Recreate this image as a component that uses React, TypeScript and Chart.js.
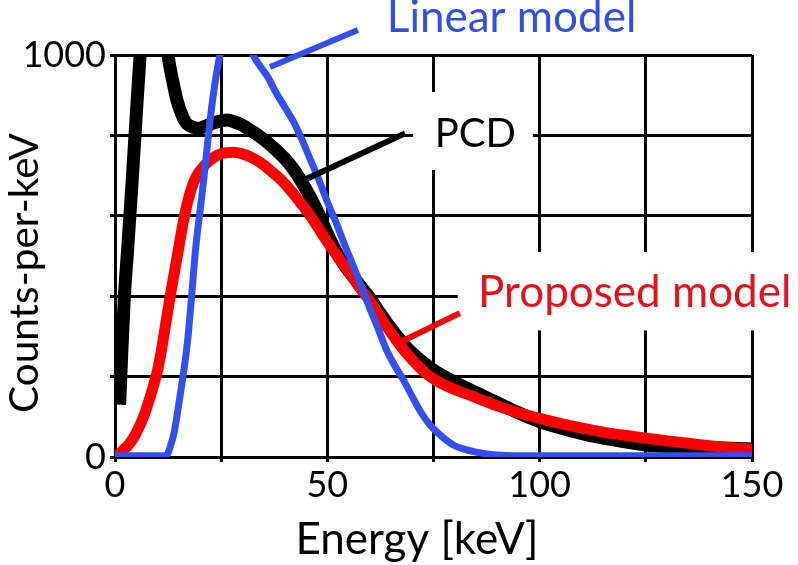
import React, { useEffect, useRef } from 'react';
import { Chart, registerables } from 'chart.js';

Chart.register(...registerables);

// ---------- data ----------
const linearEnergy = [0, 5, 10, 12, 13, 14, 15, 16, 17, 18, 19, 20, 21, 22, 23, 24, 25, 26, 28, 30, 32, 34, 36, 38, 40, 42, 44, 46, 48, 50, 52, 54, 56, 58, 60, 62, 64, 66, 68, 70, 72, 74, 76, 78, 80, 82, 85, 88, 92, 100, 120, 150];
const linearCounts = [3, 3, 3, 3, 25, 65, 130, 200, 280, 395, 520, 610, 700, 800, 890, 960, 1015, 1055, 1090, 1070, 1010, 975, 945, 905, 870, 835, 790, 740, 690, 635, 585, 530, 478, 425, 370, 318, 265, 225, 190, 150, 112, 82, 60, 42, 28, 20, 12, 7, 4, 3, 3, 3];

const proposedEnergy = [0, 1, 2, 3, 4, 5, 6, 7, 8, 9, 10, 11, 12, 13, 14, 15, 16, 17, 18, 19, 20, 22, 24, 26, 28, 30, 32, 34, 36, 38, 40, 42, 44, 46, 48, 50, 52, 54, 56, 58, 60, 62, 64, 66, 68, 70, 73, 76, 80, 85, 90, 95, 100, 105, 110, 115, 120, 125, 130, 135, 140, 145, 150];
const proposedCounts = [0, 8, 18, 28, 42, 60, 82, 108, 140, 175, 215, 270, 335, 400, 460, 520, 580, 630, 668, 695, 712, 735, 750, 757, 758, 754, 746, 734, 718, 700, 680, 655, 628, 600, 568, 535, 505, 476, 446, 416, 388, 356, 324, 294, 266, 242, 210, 188, 168, 148, 127, 110, 96, 83, 72, 62, 54, 47, 40, 34, 28, 23, 19];

const pcdEnergy = [1.1, 1.6, 2.2, 3, 4, 5, 6, 7, 8, 9, 10, 11, 12, 12.5, 13.5, 14.6, 16, 17, 18.5, 20, 21, 23, 25, 26.5, 28, 30, 32, 34, 36, 38, 40, 42, 44, 46, 48, 50, 52, 54, 56, 58, 60, 62, 64, 66, 68, 70, 72, 75, 80, 85, 90, 95, 100, 105, 110, 115, 120, 125, 130, 135, 140, 145, 150];
const pcdCounts = [130, 260, 398, 520, 680, 850, 1015, 1180, 1300, 1330, 1280, 1170, 1060, 1000, 940, 887, 845, 828, 820, 818, 822, 830, 836, 838, 834, 825, 812, 798, 782, 763, 742, 716, 684, 646, 604, 556, 512, 478, 450, 422, 396, 364, 334, 306, 280, 258, 240, 216, 186, 160, 135, 110, 88, 72, 58, 47, 38, 30, 26, 24, 23, 22, 20];

const xTickLabels = [0, 50, 100, 150];
const yTickLabels = [0, 1000];

const seriesNames = ['Linear model', 'Proposed model', 'PCD'];
const seriesColors = ['#3050f0', '#ff0000', '#000000'];
const textColors = ['#2f4fe8', '#e8101a', '#000000'];
const labelFontSizes = [44, 44, 40];

// annotation anchors in data units
const labelX = [64.0, 85.5, 75.3];
const labelY = [1057, 372, 771];
const leaderFromX = [36.5, 66.6, 44.3];
const leaderFromY = [970, 283, 688];
const leaderToX = [57.2, 81.2, 68.3];
const leaderToY = [1062, 358, 805];
// white masks behind labels (data units): [x0, x1, y0, y1]
const maskBoxes = [
  [80.7, 162, 315, 510],
  [70.2, 98.4, 714, 908],
];

const toPts = (xs: number[], ys: number[]) => xs.map((x, i) => ({ x, y: ys[i] }));

const FONT = 'Lato, "Open Sans", sans-serif';

export default function App() {
  const ref = useRef<HTMLCanvasElement>(null);

  useEffect(() => {
    document.body.style.margin = '0';
    const canvas = ref.current!;
    const annot = {
      id: 'annot',
      beforeDatasetsDraw(chart: any) {
        const { ctx, scales } = chart;
        const xs = scales.x, ys = scales.y;
        ctx.save();
        ctx.fillStyle = '#ffffff';
        maskBoxes.forEach(([x0, x1, y0, y1]) => {
          const px0 = xs.getPixelForValue(x0);
          const px1 = xs.getPixelForValue(x1);
          const py0 = ys.getPixelForValue(y1);
          const py1 = ys.getPixelForValue(y0);
          ctx.fillRect(px0, py0, px1 - px0, py1 - py0);
        });
        ctx.restore();
      },
      afterDatasetsDraw(chart: any) {
        const { ctx, scales } = chart;
        const xs = scales.x, ys = scales.y;
        ctx.save();
        ctx.lineCap = 'butt';
        for (let i = 0; i < seriesNames.length; i++) {
          ctx.strokeStyle = seriesColors[i];
          ctx.lineWidth = 6;
          ctx.beginPath();
          ctx.moveTo(xs.getPixelForValue(leaderFromX[i]), ys.getPixelForValue(leaderFromY[i]));
          ctx.lineTo(xs.getPixelForValue(leaderToX[i]), ys.getPixelForValue(leaderToY[i]));
          ctx.stroke();
        }
        ctx.restore();
      },
      afterDraw(chart: any) {
        const { ctx, scales } = chart;
        const xs = scales.x, ys = scales.y;
        ctx.save();
        ctx.textBaseline = 'alphabetic';
        ctx.textAlign = 'left';
        for (let i = 0; i < seriesNames.length; i++) {
          ctx.font = `${labelFontSizes[i]}px ${FONT}`;
          ctx.fillStyle = textColors[i];
          ctx.fillText(seriesNames[i], xs.getPixelForValue(labelX[i]), ys.getPixelForValue(labelY[i]));
        }
        // axis titles
        ctx.fillStyle = '#000';
        ctx.textAlign = 'center';
        ctx.font = `44px ${FONT}`;
        ctx.fillText('Energy [keV]', 417, 554);
        ctx.translate(38, 273);
        ctx.rotate(-Math.PI / 2);
        ctx.font = `40.5px ${FONT}`;
        ctx.fillText('Counts-per-keV', 0, 0);
        ctx.restore();
      },
    };

    const chart = new Chart(canvas, {
      type: 'line',
      data: {
        datasets: [
          { label: seriesNames[0], data: toPts(linearEnergy, linearCounts), borderColor: seriesColors[0], borderWidth: 7 },
          { label: seriesNames[1], data: toPts(proposedEnergy, proposedCounts), borderColor: seriesColors[1], borderWidth: 11 },
          { label: seriesNames[2], data: toPts(pcdEnergy, pcdCounts), borderColor: seriesColors[2], borderWidth: 13 },
        ].map((d) => ({
          ...d,
          pointRadius: 0,
          fill: false,
          cubicInterpolationMode: 'monotone' as const,
          borderCapStyle: 'butt' as const,
          borderJoinStyle: 'round' as const,
          clip: 0,
        })),
      },
      options: {
        animation: false,
        responsive: false,
        layout: { padding: { top: 55, right: 46, left: 0, bottom: 0 } },
        plugins: { legend: { display: false }, tooltip: { enabled: false } },
        scales: {
          x: {
            type: 'linear',
            min: 0,
            max: 150,
            afterFit: (s: any) => { s.height = 108; },
            ticks: {
              stepSize: 25,
              autoSkip: false,
              maxRotation: 0,
              color: '#000',
              font: { family: FONT, size: 36 },
              padding: 2,
              callback: (v: any) => (xTickLabels.includes(Number(v)) ? String(v) : ''),
            },
            grid: { color: '#000', lineWidth: 3, tickLength: 5 },
            border: { color: '#000', width: 3 },
          },
          y: {
            type: 'linear',
            min: 0,
            max: 1000,
            afterFit: (s: any) => { s.width = 115; },
            ticks: {
              stepSize: 200,
              autoSkip: false,
              color: '#000',
              font: { family: FONT, size: 36 },
              padding: 4,
              callback: (v: any) => (yTickLabels.includes(Number(v)) ? String(v) : ''),
            },
            grid: { color: '#000', lineWidth: 3, tickLength: 5 },
            border: { color: '#000', width: 3 },
          },
        },
      },
      plugins: [annot],
    });
    return () => chart.destroy();
  }, []);

  return (
    <div style={{ width: 798, height: 565, position: 'relative', background: '#fff' }}>
      <canvas ref={ref} width={798} height={565} style={{ display: 'block' }} />
    </div>
  );
}
